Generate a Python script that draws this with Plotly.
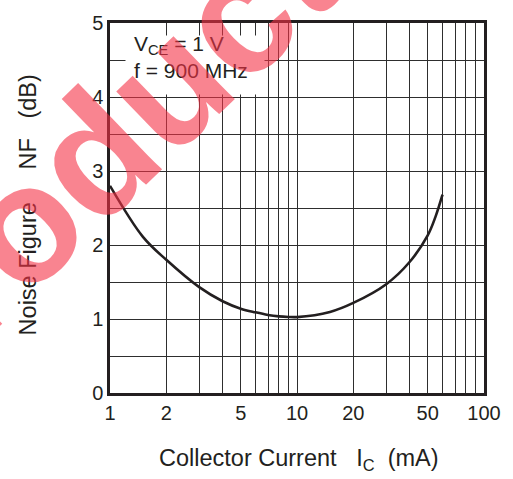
import plotly.graph_objects as go

# Noise figure vs collector current, VCE = 1 V, f = 900 MHz
ic_ma = [1, 1.5, 2, 3, 4, 5, 6, 7, 8, 9, 10, 15, 20, 30, 40, 50, 55, 60]
nf_db = [2.80, 2.11, 1.80, 1.43, 1.24, 1.14, 1.09, 1.055, 1.036, 1.028, 1.026,
         1.095, 1.217, 1.47, 1.77, 2.13, 2.38, 2.68]

x_ticks = [1, 2, 5, 10, 20, 50, 100]
x_minor = [3, 4, 6, 7, 8, 9, 30, 40, 60, 70, 80, 90]
y_ticks = [0, 1, 2, 3, 4, 5]

INK = "#231f20"
GRID = "#2e2e2e"
FONT = "Liberation Sans, Arial, sans-serif"
SP = "\u00a0"

fig = go.Figure()
fig.add_trace(go.Scatter(
    x=ic_ma, y=nf_db, mode="lines",
    line=dict(color=INK, width=2.6, shape="spline", smoothing=1.0),
    showlegend=False, hoverinfo="skip",
))

fig.update_layout(
    width=513, height=479,
    margin=dict(l=110, r=25, t=15, b=86),
    paper_bgcolor="white", plot_bgcolor="white",
    font=dict(family=FONT, color=INK, size=20),
    xaxis=dict(
        type="log", range=[0, 2],
        tickvals=x_ticks, ticktext=[str(v) for v in x_ticks],
        ticks="", showgrid=True, gridcolor=GRID, gridwidth=1,
        minor=dict(tickvals=x_minor, showgrid=True, gridcolor=GRID, gridwidth=1, ticks=""),
        showline=True, linecolor=INK, linewidth=2.5, mirror=True,
        zeroline=False, tickfont=dict(size=20),
    ),
    yaxis=dict(
        range=[0, 5], tickvals=y_ticks,
        ticks="", showgrid=True, gridcolor=GRID, gridwidth=1,
        minor=dict(dtick=0.5, showgrid=True, gridcolor=GRID, gridwidth=1, ticks=""),
        showline=True, linecolor=INK, linewidth=2.5, mirror=True,
        zeroline=False, tickfont=dict(size=20),
    ),
)

# Axis titles
fig.add_annotation(
    xref="paper", yref="paper", x=0.505, y=-0.18, xanchor="center", yanchor="middle",
    text=f"Collector Current{SP*3}I<sub>C</sub>{SP*2}(mA)", showarrow=False,
    font=dict(size=23.5, color=INK),
)
fig.add_annotation(
    xref="paper", yref="paper", x=-0.22, y=0.509, xanchor="center", yanchor="middle",
    text=f"Noise Figure{SP*5}NF{SP*3}(dB)", textangle=-90, showarrow=False,
    font=dict(size=23.5, color=INK),
)

# Condition box in the upper left corner: white backing, then the text
fig.add_annotation(
    xref="paper", yref="paper", x=0.04, y=0.968, xanchor="left", yanchor="top",
    text=SP, showarrow=False, bgcolor="white", borderpad=0,
    width=138, height=58,
)
fig.add_annotation(
    xref="paper", yref="paper", x=0.061, y=0.978, xanchor="left", yanchor="top",
    text=f"V<sub>CE</sub> = 1 V<br>f = 900 MHz", align="left",
    showarrow=False, borderpad=0, font=dict(size=21, color=INK),
)

# Diagonal watermark
fig.add_annotation(
    xref="paper", yref="paper", x=-0.072, y=0.615, xanchor="center", yanchor="middle",
    text="<b>Product</b>", textangle=-44, showarrow=False,
    font=dict(size=166, color="rgba(245,50,70,0.6)", family=FONT),
)

fig.write_html("out.html")
